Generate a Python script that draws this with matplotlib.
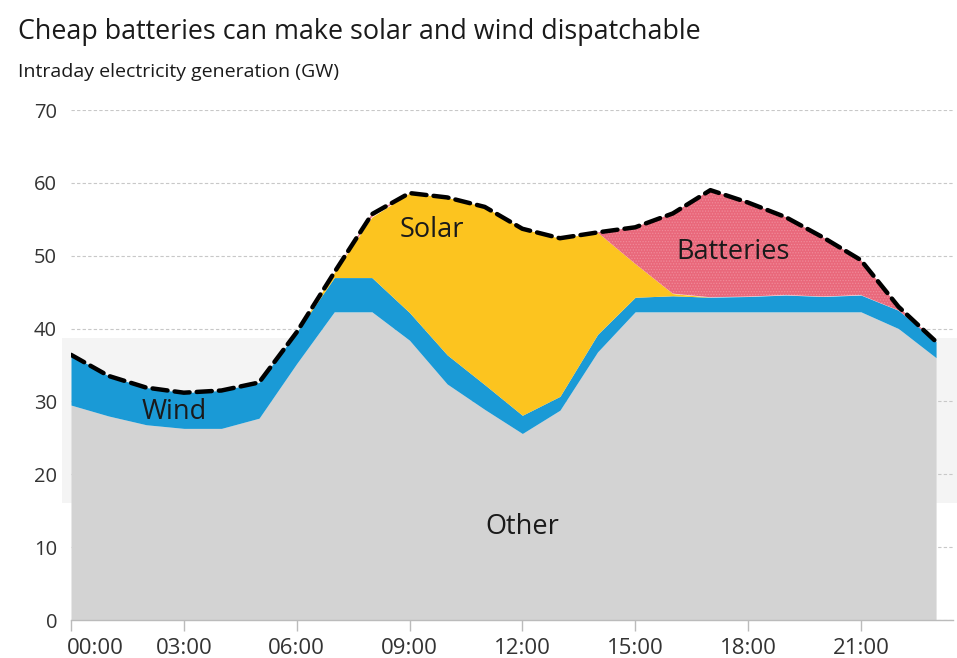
import matplotlib
matplotlib.use("Agg")
import matplotlib.pyplot as plt
import matplotlib.transforms as mtransforms
import numpy as np
from matplotlib.patches import Rectangle

plt.rcParams['font.family'] = ['Open Sans', 'DejaVu Sans']
plt.rcParams['hatch.linewidth'] = 0.6

hours = list(range(24))
tick_hours = [0, 3, 6, 9, 12, 15, 18, 21]
tick_labels = ["00:00", "03:00", "06:00", "09:00", "12:00", "15:00", "18:00", "21:00"]

other = [29.5, 28.0, 26.8, 26.3, 26.3, 27.7, 35.2, 42.3, 42.3, 38.4, 32.4, 28.9,
         25.6, 28.8, 36.8, 42.3, 42.3, 42.3, 42.3, 42.3, 42.3, 42.3, 40.0, 36.0]
wind = [6.9, 5.5, 5.1, 4.9, 5.2, 4.9, 4.3, 4.7, 4.7, 3.8, 4.0, 3.4,
        2.5, 1.9, 2.4, 2.0, 2.2, 2.0, 2.1, 2.3, 2.1, 2.3, 2.5, 2.2]
solar = [0, 0, 0, 0, 0, 0, 0, 0.7, 8.3, 16.4, 21.6, 24.4,
         25.6, 21.7, 14.0, 4.6, 0.3, 0, 0, 0, 0, 0, 0, 0]
batteries = [0, 0, 0, 0, 0, 0, 0, 0, 0.4, 0, 0, 0,
             0, 0, 0, 5.0, 11.0, 14.7, 12.9, 10.7, 8.1, 4.8, 0.5, 0]

x = np.array(hours, dtype=float)
o = np.array(other)
w = o + np.array(wind)
s = w + np.array(solar)
b = s + np.array(batteries)

fig = plt.figure(figsize=(9.57, 6.58), dpi=100)
fig.patch.set_facecolor("white")

# light grey background band (present in the reference image)
fig.patches.append(Rectangle((62 / 957, 1 - 503 / 658), (957 - 62) / 957, (503 - 338) / 658,
                             transform=fig.transFigure, facecolor="#f4f4f4",
                             edgecolor="none", zorder=-5))

ax = fig.add_axes([71 / 957, 1 - 620 / 658, (953 - 71) / 957, (620 - 110) / 658])
ax.set_zorder(1)
ax.set_facecolor("none")
ax.set_xlim(0, 23.45)
ax.set_ylim(0, 70)

ax.fill_between(x, 0, o, color="#d3d3d3", lw=0, zorder=2)
ax.fill_between(x, o, w, color="#1a9ad6", lw=0, zorder=2)
ax.fill_between(x, w, s, color="#fcc41f", lw=0, zorder=2)
ax.fill_between(x, s, b, facecolor="#e9687b", edgecolor="#f08a99", hatch="......",
                lw=0, zorder=2)
ax.plot(x, b, color="black", lw=3.2, dashes=(3.4, 1.6), zorder=4,
        solid_capstyle="round", dash_capstyle="round", solid_joinstyle="round")

ax.set_yticks(range(0, 71, 10))
ax.grid(axis="y", color="#c8c8c8", linestyle=(0, (3, 2)), lw=0.8, zorder=1)
ax.set_axisbelow(True)
for sp in ["top", "right", "left"]:
    ax.spines[sp].set_visible(False)
ax.spines["bottom"].set_color("#bbbbbb")
ax.spines["bottom"].set_linewidth(1.0)
ax.spines["bottom"].set_zorder(5)

ax.set_xticks(tick_hours)
ax.set_xticklabels(tick_labels)
ax.tick_params(axis="x", length=8, color="#bbbbbb", width=1.0, pad=5,
               labelsize=16, labelcolor="#333333")
ax.tick_params(axis="y", length=0, pad=10, labelsize=14.5, labelcolor="#333333")
first = ax.get_xticklabels()[0]
first.set_ha("left")
first.set_transform(first.get_transform() +
                    mtransforms.ScaledTranslation(-4 / 100, 0, fig.dpi_scale_trans))

lab_kw = dict(fontsize=19.5, color="#1a1a1a", ha="center", va="center", zorder=6)
ax.text(2.75, 28.5, "Wind", **lab_kw)
ax.text(9.6, 53.5, "Solar", **lab_kw)
ax.text(17.6, 50.5, "Batteries", **lab_kw)
ax.text(12.0, 12.8, "Other", **lab_kw)

fig.text(18 / 957, 1 - 32 / 658, "Cheap batteries can make solar and wind dispatchable",
         fontsize=19.4, color="#1a1a1a", ha="left", va="center")
fig.text(18 / 957, 1 - 72 / 658, "Intraday electricity generation (GW)",
         fontsize=14, color="#1a1a1a", ha="left", va="center")

fig.savefig("out.png", dpi=100)
